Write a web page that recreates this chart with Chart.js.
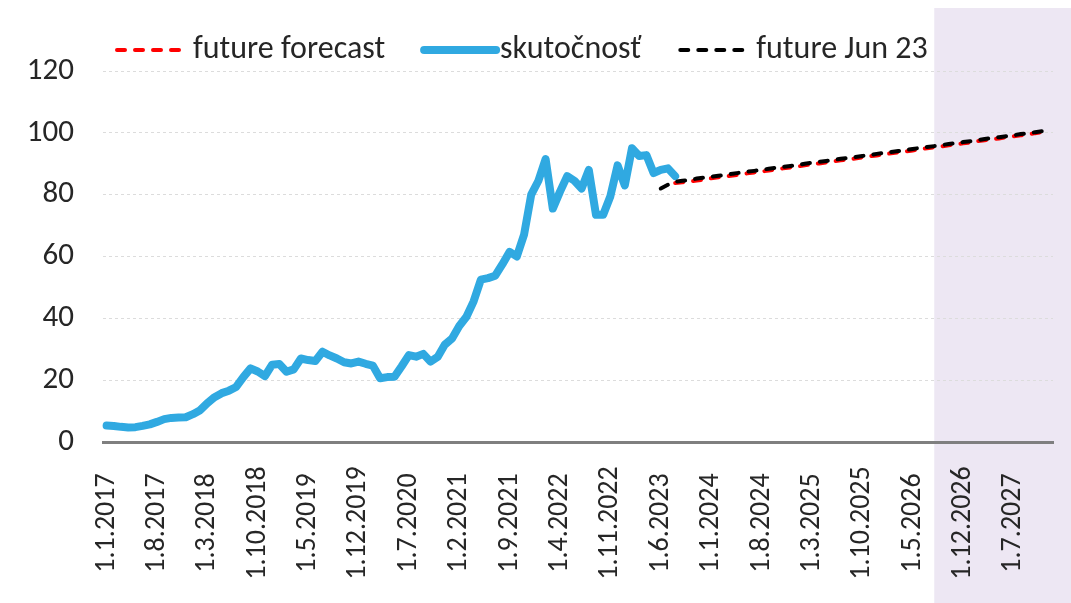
<!DOCTYPE html>
<html>
<head>
<meta charset="utf-8">
<script src="https://cdn.jsdelivr.net/npm/chart.js@4"></script>
<style>
  html, body { margin: 0; padding: 0; background: #fff; }
  #wrap { width: 1071px; height: 603px; position: relative; }
</style>
</head>
<body>
<div id="wrap"><canvas id="priceChart"></canvas></div>
<script>
// ==========================================
// DATA
// ==========================================

const firstYear = 2017;
const monthCount = 132;          // 1.1.2017 .. 1.12.2027
const labelStep = 7;             // every 7th month gets a tick label

// skutočnosť, monthly from 1.1.2017
const actualValues = [
  5.3, 5.2, 4.9, 4.7, 4.8, 5.2, 5.7, 6.5, 7.4, 7.8, 7.9, 8.0,
  9.0, 10.3, 12.6, 14.5, 15.8, 16.6, 17.8, 21.0, 23.8, 22.8, 21.3, 25.0,
  25.2, 22.7, 23.5, 27.0, 26.5, 26.2, 29.2, 28.0, 27.0, 25.8, 25.4, 26.0,
  25.3, 24.7, 20.6, 21.0, 21.1, 24.5, 28.1, 27.6, 28.5, 26.0, 27.5, 31.5,
  33.5, 37.5, 40.5, 45.5, 52.5, 53.0, 53.8, 57.5, 61.5, 60.0, 67.0, 80.0,
  84.5, 91.5, 75.5, 81.0, 86.0, 84.5, 82.0, 88.0, 73.5, 73.5, 79.5, 89.5,
  83.0, 95.0, 92.5, 92.8, 87.0, 88.0, 88.5, 86.0
];

// future forecast, from 1.8.2023
const forecastStart = '1.8.2023';
const forecastValues = [
  83.8, 84.0, 84.3, 84.6, 84.9, 85.3, 85.6, 85.9, 86.2, 86.5, 86.9, 87.2,
  87.5, 87.8, 88.2, 88.5, 88.8, 89.1, 89.5, 89.8, 90.1, 90.4, 90.8, 91.1,
  91.4, 91.7, 92.1, 92.4, 92.7, 93.0, 93.4, 93.7, 94.0, 94.3, 94.7, 95.0,
  95.3, 95.6, 96.0, 96.3, 96.6, 96.9, 97.3, 97.6, 97.9, 98.2, 98.6, 98.9,
  99.2, 99.5, 99.9, 100.2, 100.5
];

// future Jun 23, from 1.6.2023
const jun23Start = '1.6.2023';
const jun23Values = [
  82.0, 83.2, 84.2, 84.5, 84.8, 85.2, 85.5, 85.8, 86.1, 86.4, 86.8, 87.1,
  87.4, 87.7, 88.0, 88.4, 88.7, 89.0, 89.3, 89.6, 90.0, 90.3, 90.6, 90.9,
  91.2, 91.6, 91.9, 92.2, 92.5, 92.8, 93.2, 93.5, 93.8, 94.1, 94.4, 94.8,
  95.1, 95.4, 95.7, 96.0, 96.4, 96.7, 97.0, 97.3, 97.6, 98.0, 98.3, 98.6,
  98.9, 99.2, 99.6, 99.9, 100.2, 100.5, 100.8
];

// shaded period starts here and runs to the end of the axis
const shadeStart = '1.8.2026';

const yTicks = [0, 20, 40, 60, 80, 100, 120];

// ==========================================
// HELPERS
// ==========================================

const FONT = 'Carlito, Lato, "Open Sans", sans-serif';
const TICK_SIZE = 28;
const Y_TICK_SIZE = 31;
const LEGEND_SIZE = 32;
const TEXT_COLOR = '#262626';

const monthLabels = [];
for (let i = 0; i < monthCount; i++) {
  const m = i % 12 + 1;
  const y = firstYear + Math.floor(i / 12);
  monthLabels.push(`1.${m}.${y}`);
}

function placeSeries(values, startLabel) {
  const start = monthLabels.indexOf(startLabel);
  const out = new Array(monthCount).fill(null);
  values.forEach((v, i) => { out[start + i] = v; });
  return out;
}

// background band for the shaded period
const shadePlugin = {
  id: 'shadeBand',
  beforeDraw(chart) {
    const xScale = chart.scales.x;
    const idx = monthLabels.indexOf(shadeStart);
    const left = xScale.getPixelForValue(idx);
    const ctx = chart.ctx;
    ctx.save();
    ctx.fillStyle = '#ede7f3';
    ctx.fillRect(left, 8, chart.width - left, chart.height - 8);
    ctx.restore();
  }
};

// date labels under the axis, turned upright and centred in the band below it
const dateLabels = {
  id: 'dateLabels',
  afterDraw(chart) {
    const xScale = chart.scales.x;
    const ctx = chart.ctx;
    const midY = 523;
    ctx.save();
    ctx.font = `${TICK_SIZE}px ${FONT}`;
    ctx.fillStyle = TEXT_COLOR;
    ctx.textAlign = 'center';
    ctx.textBaseline = 'middle';
    monthLabels.forEach((lbl, i) => {
      if (i % labelStep !== 0) return;
      const x = xScale.getPixelForValue(i);
      ctx.save();
      ctx.translate(x, midY);
      ctx.rotate(-Math.PI / 2);
      ctx.fillText(lbl, 0, 0);
      ctx.restore();
    });
    ctx.restore();
  }
};

// legend row above the plot: line sample followed by the name
const lineLegend = {
  id: 'lineLegend',
  afterDraw(chart) {
    const ctx = chart.ctx;
    const sampleWidth = 72;
    const y = 50;
    let x = chart.chartArea.left + 14;
    ctx.save();
    ctx.font = `${LEGEND_SIZE}px ${FONT}`;
    ctx.textBaseline = 'middle';
    chart.data.datasets.forEach(ds => {
      ctx.strokeStyle = ds.borderColor;
      ctx.lineWidth = ds.borderWidth;
      ctx.lineCap = 'round';
      ctx.setLineDash(ds.borderDash || []);
      ctx.beginPath();
      ctx.moveTo(x, y);
      ctx.lineTo(x + sampleWidth, y);
      ctx.stroke();
      ctx.setLineDash([]);
      ctx.fillStyle = TEXT_COLOR;
      ctx.fillText(ds.label, x + sampleWidth + 4, y);
      x += sampleWidth + 4 + ctx.measureText(ds.label).width + 39;
    });
    ctx.restore();
  }
};

// ==========================================
// CHART
// ==========================================

new Chart(document.getElementById('priceChart'), {
  type: 'line',
  data: {
    labels: monthLabels,
    datasets: [
      {
        label: 'future forecast',
        data: placeSeries(forecastValues, forecastStart),
        borderColor: '#ff0000',
        borderWidth: 4,
        borderDash: [8, 10],
        borderCapStyle: 'round',
        pointRadius: 0,
        order: 2
      },
      {
        label: 'skutočnosť',
        data: placeSeries(actualValues, '1.1.2017'),
        borderColor: '#30a9e1',
        borderWidth: 8,
        borderJoinStyle: 'round',
        borderCapStyle: 'round',
        pointRadius: 0,
        order: 1
      },
      {
        label: 'future Jun 23',
        data: placeSeries(jun23Values, jun23Start),
        borderColor: '#000000',
        borderWidth: 4,
        borderDash: [8, 10],
        borderCapStyle: 'round',
        pointRadius: 0,
        order: 0
      }
    ]
  },
  options: {
    responsive: true,
    maintainAspectRatio: false,
    animation: false,
    layout: { padding: { top: 71, right: 18, bottom: 0, left: 0 } },
    plugins: {
      legend: { display: false },
      tooltip: { enabled: false }
    },
    scales: {
      x: {
        offset: true,
        grid: { display: false, drawTicks: false },
        border: { display: true, color: '#7f7f7f', width: 3 },
        ticks: { display: false },
        afterFit: function(scale) {
          scale.height = 161;
        }
      },
      y: {
        min: yTicks[0],
        max: yTicks[yTicks.length - 1],
        afterBuildTicks: function(scale) {
          scale.ticks = yTicks.map(v => ({ value: v }));
        },
        afterFit: function(scale) {
          scale.width = 103;
        },
        border: { display: false, dash: [3, 3] },
        grid: {
          color: ctx => ctx.tick && ctx.tick.value === 0 ? 'rgba(0,0,0,0)' : '#dcdcdc',
          drawTicks: false
        },
        ticks: {
          padding: 29,
          color: TEXT_COLOR,
          font: { family: FONT, size: Y_TICK_SIZE }
        }
      }
    }
  },
  plugins: [shadePlugin, dateLabels, lineLegend]
});
</script>
</body>
</html>
